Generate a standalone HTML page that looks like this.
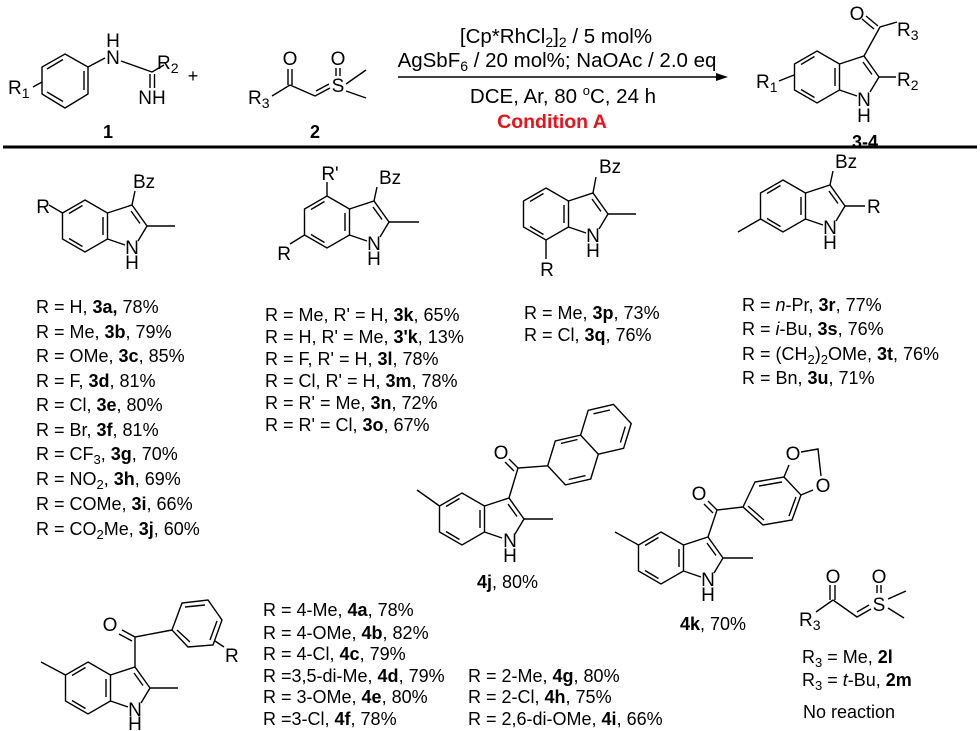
<!DOCTYPE html>
<html><head><meta charset="utf-8"><style>
html,body{margin:0;padding:0;background:#fff;}
svg{display:block;}
text{font-family:"Liberation Sans",Arial,sans-serif;fill:#000;}
.s{font-size:19px;}
.l{font-size:18px;}
.b{font-weight:bold;}
</style></head><body>
<svg width="980" height="731" viewBox="0 0 980 731" xmlns="http://www.w3.org/2000/svg">
<defs>
<g id="ind" fill="none" stroke="#000" stroke-width="1.4">
<path d="M0,-26 L22.5,-13 L22.5,13 L0,26 L-22.5,13 L-22.5,-13 Z"/>
<path d="M22.5,-13 L47,-21 L62,0 L53,15 M22.5,13 L40,19"/>
<path d="M-16,-12.5 L-2.5,-20.5 M-16,12.5 L-2.5,20.5 M18,-9 L18,9 M46,-15 L55,-2.5"/>
</g>
</defs>
<g fill="none" stroke="#000" stroke-width="1.4">
<path d="M65,54 L88,67 L88,94 L65,108 L42,94 L42,67 Z"/>
<path d="M47,69 L63,59.5 M84,71 L84,90 M47,92 L63,101.5"/>
<path d="M33,87 L42,82"/>
<path d="M88,67 L105,58 M121,61 L152,72 L164,65 M150,74 L150,88 M154.5,74 L154.5,88"/>
<path d="M288,69 L288,85 M292,69 L292,85 M290,85 L272,96 M290,85 L315,96 L330,88 M316,91 L329,84 M336,68 L336,76 M340,68 L340,76 M346,84 L366,70 M346,91 L366,98"/>
<path d="M398,77 L718,77"/>
<path d="M3,147 L977,147" stroke-width="3"/>
<path d="M779,81 L794,75 M864,56 L880,27 L897,22 M878,26 L866,16 M874,29 L862,19 M879,77 L896,77"/>
</g>
<path d="M716,73 L728,77 L716,81 Z" fill="#000"/>
<text class="s" x="8" y="94">R<tspan font-size="14" dy="4">1</tspan></text>
<text class="s" x="113" y="64" text-anchor="middle">N</text>
<text class="s" x="113" y="47" text-anchor="middle">H</text>
<text class="s" x="157" y="69">R<tspan font-size="14" dy="4">2</tspan></text>
<text class="s" x="152" y="104" text-anchor="middle">NH</text>
<text class="l b" x="108" y="138" text-anchor="middle" font-size="19">1</text>
<text class="l" x="193" y="82" text-anchor="middle" font-size="20">+</text>
<text class="s" x="290" y="65" text-anchor="middle">O</text>
<text class="s" x="248" y="104">R<tspan font-size="14" dy="4">3</tspan></text>
<text class="s" x="338" y="92" text-anchor="middle">S</text>
<text class="s" x="338" y="65" text-anchor="middle">O</text>
<text class="l b" x="315" y="138" text-anchor="middle" font-size="19">2</text>
<text x="556" y="43" text-anchor="middle" font-size="20.5">[Cp*RhCl<tspan font-size="14" dy="4">2</tspan><tspan dy="-4">]</tspan><tspan font-size="14" dy="4">2</tspan><tspan dy="-4"> / 5 mol%</tspan></text>
<text x="557" y="67" text-anchor="middle" font-size="20.5">AgSbF<tspan font-size="14" dy="4">6</tspan><tspan dy="-4"> / 20 mol%; NaOAc / 2.0 eq</tspan></text>
<text x="563" y="103" text-anchor="middle" font-size="20.5">DCE, Ar, 80 <tspan font-size="13" dy="-8">o</tspan><tspan dy="8">C, 24 h</tspan></text>
<text class="b" x="552" y="128" text-anchor="middle" font-size="19.5" style="fill:#e8141b">Condition A</text>
<use href="#ind" x="817" y="77"/>
<text class="s" x="864" y="106" text-anchor="middle">N</text>
<text class="s" x="864" y="122" text-anchor="middle">H</text>
<text class="s" x="756" y="88">R<tspan font-size="14" dy="4">1</tspan></text>
<text class="s" x="857" y="20" text-anchor="middle">O</text>
<text class="s" x="897" y="36">R<tspan font-size="14" dy="4">3</tspan></text>
<text class="s" x="897" y="86">R<tspan font-size="14" dy="4">2</tspan></text>
<text class="l b" x="865" y="148" text-anchor="middle" font-size="19">3-4</text>

<g transform="translate(85,226)">
<use href="#ind"/>
<path d="M47,-21 L50,-35 M62,0 L90,0 M-22.5,-13 L-36,-21" fill="none" stroke="#000" stroke-width="1.4"/>
<text class="s" x="47" y="28" text-anchor="middle">N</text>
<text class="s" x="47" y="43" text-anchor="middle">H</text>
<text class="s" x="48" y="-38">Bz</text>
<text class="s" x="-35" y="-13" text-anchor="end">R</text>
</g>
<g transform="translate(327,222)">
<use href="#ind"/>
<path d="M47,-21 L50,-35 M62,0 L92,0 M0,-26 L0,-40 M-22.5,13 L-37,22" fill="none" stroke="#000" stroke-width="1.4"/>
<text class="s" x="47" y="28" text-anchor="middle">N</text>
<text class="s" x="47" y="43" text-anchor="middle">H</text>
<text class="s" x="52" y="-38">Bz</text>
<text class="s" x="3" y="-42" text-anchor="middle">R'</text>
<text class="s" x="-36" y="38" text-anchor="end">R</text>
</g>
<g transform="translate(546,214)">
<use href="#ind"/>
<path d="M47,-21 L50,-37 M62,0 L90,0 M0,26 L0,45" fill="none" stroke="#000" stroke-width="1.4"/>
<text class="s" x="47" y="28" text-anchor="middle">N</text>
<text class="s" x="47" y="43" text-anchor="middle">H</text>
<text class="s" x="53" y="-41">Bz</text>
<text class="s" x="1" y="62" text-anchor="middle">R</text>
</g>
<g transform="translate(783,206)">
<use href="#ind"/>
<path d="M47,-21 L50,-35 M62,0 L82,0 M-22.5,13 L-45,26" fill="none" stroke="#000" stroke-width="1.4"/>
<text class="s" x="47" y="28" text-anchor="middle">N</text>
<text class="s" x="47" y="43" text-anchor="middle">H</text>
<text class="s" x="52" y="-38">Bz</text>
<text class="s" x="84" y="7">R</text>
</g>

<g>
<text class="l" x="36" y="313">R = H, <tspan class="b">3a,</tspan> 78%</text>
<text class="l" x="36" y="338">R = Me, <tspan class="b">3b</tspan>, 79%</text>
<text class="l" x="36" y="362">R = OMe, <tspan class="b">3c</tspan>, 85%</text>
<text class="l" x="36" y="387">R = F, <tspan class="b">3d</tspan>, 81%</text>
<text class="l" x="36" y="411">R = Cl, <tspan class="b">3e</tspan>, 80%</text>
<text class="l" x="36" y="436">R = Br, <tspan class="b">3f</tspan>, 81%</text>
<text class="l" x="36" y="460">R = CF<tspan font-size="13" dy="4">3</tspan><tspan dy="-4">, </tspan><tspan class="b">3g</tspan>, 70%</text>
<text class="l" x="36" y="485">R = NO<tspan font-size="13" dy="4">2</tspan><tspan dy="-4">, </tspan><tspan class="b">3h</tspan>, 69%</text>
<text class="l" x="36" y="510">R = COMe, <tspan class="b">3i</tspan>, 66%</text>
<text class="l" x="36" y="535">R = CO<tspan font-size="13" dy="4">2</tspan><tspan dy="-4">Me, </tspan><tspan class="b">3j</tspan>, 60%</text>

<text class="l" x="265" y="321">R = Me, R' = H, <tspan class="b">3k</tspan>, 65%</text>
<text class="l" x="265" y="343">R = H, R' = Me, <tspan class="b">3'k</tspan>, 13%</text>
<text class="l" x="265" y="365">R = F, R' = H, <tspan class="b">3l</tspan>, 78%</text>
<text class="l" x="265" y="387">R = Cl, R' = H, <tspan class="b">3m</tspan>, 78%</text>
<text class="l" x="265" y="409">R = R' = Me, <tspan class="b">3n</tspan>, 72%</text>
<text class="l" x="265" y="431">R = R' = Cl, <tspan class="b">3o</tspan>, 67%</text>

<text class="l" x="524" y="319">R = Me, <tspan class="b">3p</tspan>, 73%</text>
<text class="l" x="524" y="341">R = Cl, <tspan class="b">3q</tspan>, 76%</text>

<text class="l" x="742" y="311">R = <tspan font-style="italic">n</tspan>-Pr, <tspan class="b">3r</tspan>, 77%</text>
<text class="l" x="742" y="335">R = <tspan font-style="italic">i</tspan>-Bu, <tspan class="b">3s</tspan>, 76%</text>
<text class="l" x="742" y="360">R = (CH<tspan font-size="13" dy="4">2</tspan><tspan dy="-4">)</tspan><tspan font-size="13" dy="4">2</tspan><tspan dy="-4">OMe, </tspan><tspan class="b">3t</tspan>, 76%</text>
<text class="l" x="742" y="384">R = Bn, <tspan class="b">3u</tspan>, 71%</text>

<text class="l" x="263" y="616">R = 4-Me, <tspan class="b">4a</tspan>, 78%</text>
<text class="l" x="263" y="639">R = 4-OMe, <tspan class="b">4b</tspan>, 82%</text>
<text class="l" x="263" y="660">R = 4-Cl, <tspan class="b">4c</tspan>, 79%</text>
<text class="l" x="263" y="682">R =3,5-di-Me, <tspan class="b">4d</tspan>, 79%</text>
<text class="l" x="263" y="703">R = 3-OMe, <tspan class="b">4e</tspan>, 80%</text>
<text class="l" x="263" y="725">R =3-Cl, <tspan class="b">4f</tspan>, 78%</text>
<text class="l" x="468" y="682">R = 2-Me, <tspan class="b">4g</tspan>, 80%</text>
<text class="l" x="468" y="703">R = 2-Cl, <tspan class="b">4h</tspan>, 75%</text>
<text class="l" x="468" y="725">R = 2,6-di-OMe, <tspan class="b">4i</tspan>, 66%</text>
</g>

<g transform="translate(462,519)">
<use href="#ind"/>
<path d="M62,0 L91,0 M-22.5,-13 L-45,-29" fill="none" stroke="#000" stroke-width="1.4"/>
<text class="s" x="48" y="28" text-anchor="middle">N</text>
<text class="s" x="48" y="43" text-anchor="middle">H</text>
</g>
<g fill="none" stroke="#000" stroke-width="1.4">
<path d="M509,498 L518,468 L547.7,465.8 M518,468 L509,459 M514,471 L505,462"/>
<path d="M580.6,435.1 L598.3,454.2 L590.7,479 L565.4,484.9 L547.7,465.8 L555.3,441 Z"/>
<path d="M598.3,454.2 L623.6,448.3 L631.2,423.5 L613.5,404.4 L588.2,410.3 L580.6,435.1"/>
<path d="M561,443.4 L577.5,439.5 M585.5,475.6 L568.7,479.5 M593.5,413.8 L610,410 M625.3,426.6 L620.4,442.6"/>
</g>
<text class="s" x="501" y="459" text-anchor="middle">O</text>
<text class="l" x="477" y="588"><tspan class="b">4j</tspan>, 80%</text>

<g transform="translate(661,558)">
<use href="#ind"/>
<path d="M62,0 L92,0 M-22.5,-13 L-46,-26" fill="none" stroke="#000" stroke-width="1.4"/>
<text class="s" x="47" y="28" text-anchor="middle">N</text>
<text class="s" x="47" y="43" text-anchor="middle">H</text>
</g>
<g fill="none" stroke="#000" stroke-width="1.4">
<path d="M708,537 L717,510 L743,507 M717,510 L708,501 M713,513 L704,504"/>
<path d="M743,507 L755,482 L784,477 L801,495 L792,520 L763,525 Z"/>
<path d="M759,486 L782,482 M796,497 L789,516 M764,520 L748,506"/>
<path d="M784,477 L789,465 M801,495 L813,490 M801,452 L818,449 L821,476"/>
</g>
<text class="s" x="699" y="500" text-anchor="middle">O</text>
<text class="s" x="793" y="460" text-anchor="middle">O</text>
<text class="s" x="823" y="492" text-anchor="middle">O</text>
<text class="l" x="680" y="630"><tspan class="b">4k</tspan>, 70%</text>

<g transform="translate(88,688)">
<use href="#ind"/>
<path d="M62,0 L90,0 M-22.5,-13 L-47,-26" fill="none" stroke="#000" stroke-width="1.4"/>
<text class="s" x="47" y="28" text-anchor="middle">N</text>
<text class="s" x="47" y="42" text-anchor="middle">H</text>
</g>
<g fill="none" stroke="#000" stroke-width="1.4">
<path d="M135,667 L135,637 L172,630 M135,637 L122,630 M132,641 L119,634"/>
<path d="M172,630 L182,603 L208,600 L222,620 L213,645 L188,647 Z"/>
<path d="M185,607 L205,605 M217,621 L210,640 M190,642 L177,630"/>
<path d="M215,641 L224,647"/>
</g>
<text class="s" x="110" y="631" text-anchor="middle">O</text>
<text class="s" x="225" y="662">R</text>

<g fill="none" stroke="#000" stroke-width="1.4">
<path d="M830,585 L830,600 M835,585 L835,600 M833,600 L816,612 M833,600 L857,617 L871,609 M857,612 L869,605 M877,585 L877,593 M881,585 L881,593 M888,599 L906,591 M888,608 L904,618"/>
</g>
<text class="s" x="833" y="583" text-anchor="middle">O</text>
<text class="s" x="879" y="583" text-anchor="middle">O</text>
<text class="s" x="879" y="611" text-anchor="middle">S</text>
<text class="s" x="799" y="626">R<tspan font-size="14" dy="4">3</tspan></text>
<text class="l" x="802" y="663">R<tspan font-size="13" dy="4">3</tspan><tspan dy="-4"> = Me, </tspan><tspan class="b">2l</tspan></text>
<text class="l" x="802" y="686">R<tspan font-size="13" dy="4">3</tspan><tspan dy="-4"> = </tspan><tspan font-style="italic">t</tspan>-Bu, <tspan class="b">2m</tspan></text>
<text class="l" x="803" y="718">No reaction</text>
</svg>
</body></html>
